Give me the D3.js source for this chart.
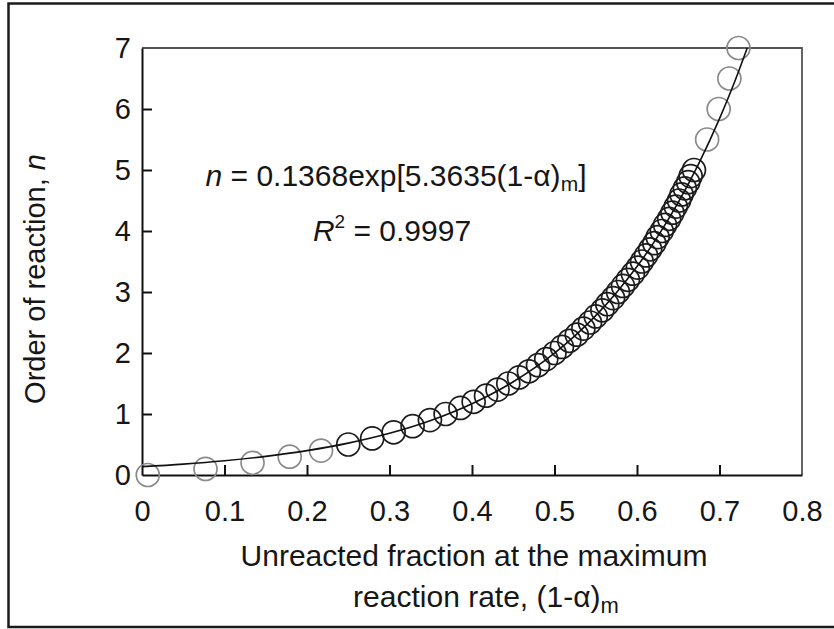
<!DOCTYPE html>
<html>
<head>
<meta charset="utf-8">
<script src="https://cdn.jsdelivr.net/npm/d3@7"></script>
<style>
  html, body { margin: 0; padding: 0; background: #fff; }
  svg { display: block; font-family: "Liberation Sans", Arial, sans-serif; }
</style>
</head>
<body>
<div id="chart"></div>
<script>
// order of reaction n for each point
const orderValues = [
  0, 0.1, 0.2, 0.3, 0.4, 0.5, 0.6, 0.7, 0.8, 0.9,
  1.0, 1.1, 1.2, 1.3, 1.4, 1.5, 1.6, 1.7, 1.8, 1.9,
  2.0, 2.1, 2.2, 2.3, 2.4, 2.5, 2.6, 2.7, 2.8, 2.9,
  3.0, 3.1, 3.2, 3.3, 3.4, 3.5, 3.6, 3.7, 3.8, 3.9,
  4.0, 4.1, 4.2, 4.3, 4.4, 4.5, 4.6, 4.7, 4.8, 4.9,
  5.0, 5.5, 6.0, 6.5, 7.0
];
// unreacted fraction at max rate for each point
const fractionValues = [
  0.007, 0.077, 0.134, 0.179, 0.217, 0.250, 0.279, 0.305, 0.328, 0.349,
  0.368, 0.386, 0.402, 0.417, 0.431, 0.444, 0.457, 0.469, 0.480, 0.490,
  0.500, 0.509, 0.518, 0.527, 0.535, 0.543, 0.550, 0.558, 0.564, 0.571,
  0.577, 0.583, 0.589, 0.595, 0.601, 0.606, 0.611, 0.616, 0.621, 0.625,
  0.630, 0.634, 0.639, 0.643, 0.647, 0.651, 0.654, 0.658, 0.662, 0.665,
  0.669, 0.685, 0.699, 0.712, 0.723
];

// fitted curve n = 0.1368exp[5.3635(1-a)m], read at a few x
const fitX = [0, 0.05, 0.1, 0.15, 0.2, 0.25, 0.3, 0.35, 0.4, 0.45, 0.5, 0.525, 0.55, 0.575, 0.6, 0.625, 0.65, 0.675, 0.7, 0.71, 0.72, 0.7336];
const fitY = [0.137, 0.179, 0.234, 0.306, 0.400, 0.523, 0.684, 0.894, 1.169, 1.529, 1.999, 2.285, 2.613, 2.989, 3.417, 3.908, 4.468, 5.108, 5.843, 6.164, 6.504, 7.0];

const xTicks = [0, 0.1, 0.2, 0.3, 0.4, 0.5, 0.6, 0.7, 0.8];
const yTicks = [0, 1, 2, 3, 4, 5, 6, 7];

const width = 834;
const height = 629;
const plot = { left: 142, right: 802, top: 48, bottom: 475 };
const ink = "#161616";

const svg = d3.select("#chart")
  .append("svg")
  .attr("width", width)
  .attr("height", height);

// frame around the figure (top, left, bottom)
svg.append("path")
  .attr("d", `M834,3.5 H8.5 V627 H834`)
  .attr("fill", "none")
  .attr("stroke", "#1a1a1a")
  .attr("stroke-width", 2.5);

const x = d3.scaleLinear().domain([0, 0.8]).range([plot.left, plot.right]);
const y = d3.scaleLinear().domain([0, 7]).range([plot.bottom, plot.top]);

// top & right border of the plot box (lighter)
svg.append("path")
  .attr("d", `M${plot.left},${plot.top} H${plot.right} V${plot.bottom}`)
  .attr("fill", "none")
  .attr("stroke", "#555")
  .attr("stroke-width", 1.8);

// axes with inward ticks
const xAxis = svg.append("g")
  .attr("transform", `translate(0,${plot.bottom})`)
  .call(d3.axisBottom(x).tickValues(xTicks).tickSizeInner(-10).tickSizeOuter(0)
    .tickFormat(d => d === 0 ? "0" : d3.format(".1f")(d)));
xAxis.select(".domain").attr("stroke", "#111").attr("stroke-width", 2);
xAxis.selectAll(".tick line").attr("stroke", "#111").attr("stroke-width", 2)
  .filter(d => d === 0 || d === 0.8).remove();
xAxis.selectAll(".tick text")
  .attr("y", 25)
  .attr("dy", "0.71em")
  .style("font-size", "29px")
  .attr("fill", ink);

const yAxis = svg.append("g")
  .attr("transform", `translate(${plot.left},0)`)
  .call(d3.axisLeft(y).tickValues(yTicks).tickSizeInner(-10).tickSizeOuter(0)
    .tickFormat(d3.format("d")));
yAxis.select(".domain").attr("stroke", "#111").attr("stroke-width", 2);
yAxis.selectAll(".tick line").attr("stroke", "#111").attr("stroke-width", 2)
  .filter(d => d === 0 || d === 7).remove();
yAxis.selectAll(".tick text")
  .attr("x", -11)
  .style("font-size", "29px")
  .attr("fill", ink);

// data circles: the sparse ends look grey, the dense middle looks black
svg.append("g")
  .selectAll("circle")
  .data(orderValues.map((n, i) => ({ n, f: fractionValues[i] })))
  .join("circle")
  .attr("cx", d => x(d.f))
  .attr("cy", d => y(d.n))
  .attr("r", 11.5)
  .attr("fill", "none")
  .attr("stroke", d => (d.n < 0.45 || d.n > 5.05) ? "#8a8a8a" : "#1c1c1c")
  .attr("stroke-width", 1.7);

// fitted line
const line = d3.line()
  .x(d => x(d[0]))
  .y(d => y(d[1]))
  .curve(d3.curveMonotoneX);

svg.append("path")
  .datum(fitX.map((v, i) => [v, fitY[i]]))
  .attr("d", line)
  .attr("fill", "none")
  .attr("stroke", "#111")
  .attr("stroke-width", 1.6);

// equation annotation
const eq = svg.append("text")
  .attr("x", 396)
  .attr("y", 186)
  .attr("text-anchor", "middle")
  .style("font-size", "30px")
  .attr("fill", ink);
eq.append("tspan").style("font-style", "italic").text("n");
eq.append("tspan").text(" = 0.1368exp[5.3635(1-\u03b1)");
eq.append("tspan").attr("dy", 5).style("font-size", "21px").text("m");
eq.append("tspan").attr("dy", -5).text("]");

const r2 = svg.append("text")
  .attr("x", 392)
  .attr("y", 241)
  .attr("text-anchor", "middle")
  .style("font-size", "30px")
  .attr("fill", ink);
r2.append("tspan").style("font-style", "italic").text("R");
r2.append("tspan").attr("dy", -13).style("font-size", "19px").text("2");
r2.append("tspan").attr("dy", 13).text(" = 0.9997");

// x axis title, two lines
svg.append("text")
  .attr("x", 474)
  .attr("y", 566)
  .attr("text-anchor", "middle")
  .style("font-size", "30px")
  .attr("fill", ink)
  .text("Unreacted fraction at the maximum");

const xt2 = svg.append("text")
  .attr("x", 486)
  .attr("y", 607)
  .attr("text-anchor", "middle")
  .style("font-size", "30px")
  .attr("fill", ink);
xt2.append("tspan").text("reaction rate, (1-\u03b1)");
xt2.append("tspan").attr("dy", 6).style("font-size", "22px").text("m");

// y axis title
const yt = svg.append("text")
  .attr("transform", `translate(45,279) rotate(-90)`)
  .attr("text-anchor", "middle")
  .style("font-size", "29px")
  .attr("fill", ink);
yt.append("tspan").text("Order of reaction, ");
yt.append("tspan").style("font-style", "italic").text("n");
</script>
</body>
</html>
